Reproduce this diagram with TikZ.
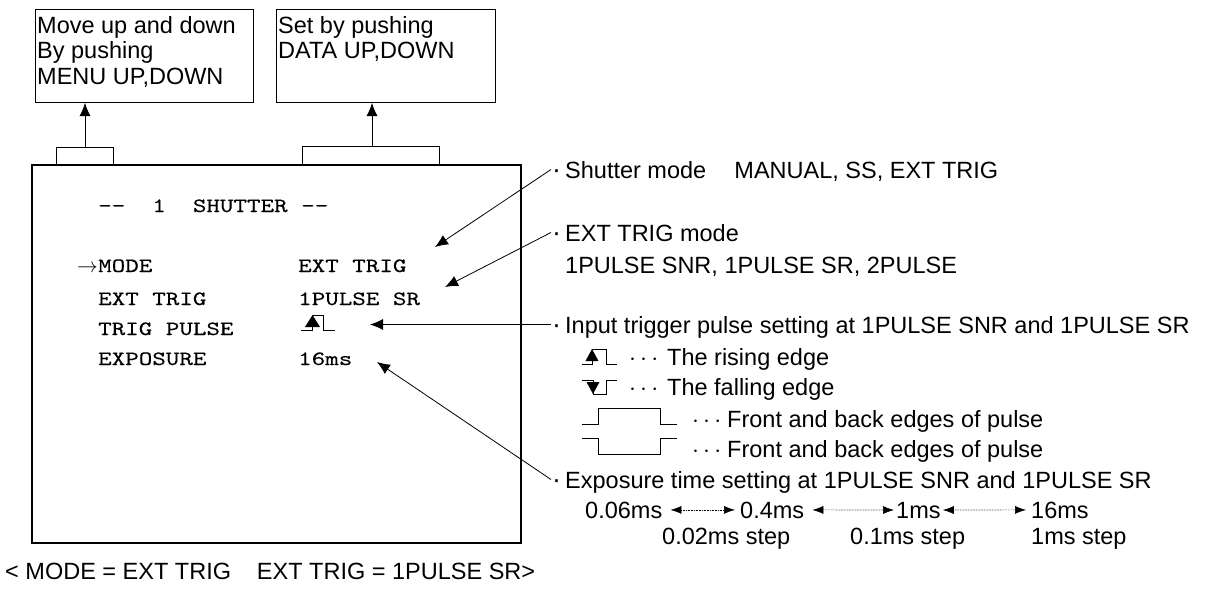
\documentclass[tikz,border=0pt]{standalone}
\usepackage{fontspec}
\setmainfont{Liberation Sans}
\newfontfamily\scrfont{lmmono10-regular.otf}[FakeStretch=1.27, FakeBold=0.3]
\newcommand{\dotmark}{\makebox[14pt][l]{\fontsize{27}{27}\selectfont\kern1pt·}}
\usetikzlibrary{arrows.meta}

\begin{document}
\begin{tikzpicture}[x=1pt, y=-1pt,
    every node/.style={inner sep=0pt},
    txt/.style={font=\fontsize{23.5}{25.5}\selectfont, anchor=base west},
    item/.style={txt, text height=17pt, text depth=0pt},
    scr/.style={font=\scrfont\fontsize{20.3}{24}\selectfont, anchor=base west},
    infobox/.style={draw, line width=1pt, anchor=north west, minimum height=93pt},
    pointer/.style={line width=0.8pt, -{Latex[length=13pt, width=11pt]}},
    rangearrow/.style={densely dotted, line width=0.6pt, {Latex[length=11pt, width=8pt]}-{Latex[length=11pt, width=8pt]}},
    wave/.style={line width=0.9pt}]
    \useasboundingbox (0,0) rectangle (1210,589);
    % Screen and keys
    \node[draw, line width=1.5pt, minimum width=489pt, minimum height=378pt] (screen) at (276.5,354) {};
    \node[infobox, minimum width=218pt] (menubox) at (35,9) {};
    \node[txt, align=left, anchor=north west] (menutext) at (37,16) {Move up and down\\By pushing\\MENU UP,DOWN};
    \node[infobox, minimum width=219pt] (databox) at (276,9) {};
    \node[txt, align=left, anchor=north west] (datatext) at (278,16) {Set by pushing\\DATA UP,DOWN};
    \draw[line width=0.8pt] (56,165) -- (56,147) -- (113,147) -- (113,165);
    \draw[line width=0.8pt] (302,165) -- (302,146) -- (439,146) -- (439,165);
    \coordinate (menubr) at (85,147);
    \coordinate (databr) at (372,146);
    \draw[pointer] (menubr) -- (menubr |- menubox.south);
    \draw[pointer] (databr) -- (databr |- databox.south);
    % Menu lines
    \node[scr] (title) at (98,212) {-{}-~~1~~SHUTTER~-{}-};
    \node[scr] (mode) at (98,272) {MODE};
    \node[scr, anchor=base east] (cursor) at (mode.base west) {$\rightarrow$};
    \node[scr] (modeval) at (298,272) {EXT TRIG};
    \node[scr] (ext) at (98,305) {EXT TRIG};
    \node[scr] (extval) at (298,305) {1PULSE SR};
    \node[scr] (pulse) at (98,335) {TRIG PULSE};
    \node[scr] (expo) at (98,365) {EXPOSURE};
    \node[scr] (expoval) at (298,365) {16ms};
    \draw[wave] (301,330) -- ++(11,0) -- ++(0,-15) -- ++(11,0) -- ++(0,15) -- ++(12,0);
    \fill (305,327) -- (320,327) -- (312.5,315) -- cycle;
    % Arrow ends
    \coordinate (tip1) at (435,247);
    \coordinate (tip2) at (445,287);
    \coordinate (tip3) at (370,324.5);
    \coordinate (tip4) at (377,362);
    % Notes
    \node[item] (shut) at (551,178) {\dotmark Shutter mode\hspace{1.2em}MANUAL, SS, EXT TRIG};
    \node[item] (trig) at (551,241) {\dotmark EXT TRIG mode};
    \node[txt] (trigset) at (551,273) {\phantom{\dotmark}1PULSE SNR, 1PULSE SR, 2PULSE};
    \node[item] (input) at (551,333) {\dotmark Input trigger pulse setting at 1PULSE SNR and 1PULSE SR};
    \node[item] (expset) at (551,488) {\dotmark Exposure time setting at 1PULSE SNR and 1PULSE SR};
    \draw[pointer] (shut.west) -- (tip1);
    \draw[pointer] (trig.west) -- (tip2);
    \draw[pointer] (input.west) -- (tip3);
    \draw[pointer] (expset.west) -- (tip4);
    % Pulse legend
    \draw[wave] (582,364) -- ++(10,0) -- ++(0,-15) -- ++(14,0) -- ++(0,15) -- ++(11,0);
    \fill (585.5,361) -- (598.5,361) -- (592,349) -- cycle;
    \draw[wave] (582,380) -- ++(11,0) -- ++(0,14) -- ++(13,0) -- ++(0,-14) -- ++(11,0);
    \fill (586.5,382) -- (599.5,382) -- (593,394) -- cycle;
    \draw[wave] (582,424) -- ++(16,0) -- ++(0,-16) -- ++(62,0) -- ++(0,16) -- ++(17,0);
    \draw[wave] (582,438) -- ++(16,0) -- ++(0,16) -- ++(62,0) -- ++(0,-16) -- ++(17,0);
    \node[txt] (rise) at (629,365) {\makebox[38pt][l]{$\cdots$}The rising edge};
    \node[txt] (fall) at (629,395) {\makebox[38pt][l]{$\cdots$}The falling edge};
    \node[txt] (front) at (692,427) {\makebox[35pt][l]{$\cdots$}Front and back edges of pulse};
    \node[txt] (back) at (692,457) {\makebox[35pt][l]{$\cdots$}Front and back edges of pulse};
    % Exposure range
    \node[txt] (t1) at (585,518) {0.06ms};
    \node[txt] (t2) at (740,518) {0.4ms};
    \node[txt] (t3) at (896,518) {1ms};
    \node[txt] (t4) at (1031,518) {16ms};
    \draw[rangearrow] ([xshift=8pt]t1.east) -- ([xshift=-5pt]t2.west);
    \draw[rangearrow] ([xshift=8pt]t2.east) -- ([xshift=-2pt]t3.west);
    \draw[rangearrow] ([xshift=2pt]t3.east) -- ([xshift=-5pt]t4.west);
    \node[txt] (s1) at (662,544) {0.02ms step};
    \node[txt] (s2) at (850,544) {0.1ms step};
    \node[txt] (s3) at (1031,544) {1ms step};
    \node[txt] (caption) at (5,579) {< MODE = EXT TRIG\hspace{1.1em}EXT TRIG = 1PULSE SR>};
\end{tikzpicture}
\end{document}
